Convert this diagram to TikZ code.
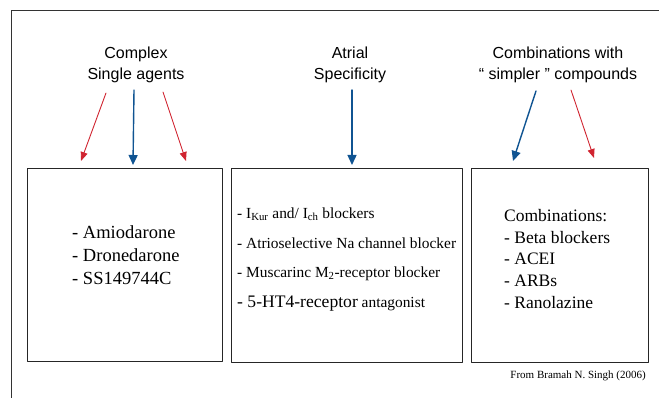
\documentclass[tikz,border=0pt]{standalone}
\usepackage{fontspec}
\setmainfont{Liberation Serif}
\newfontfamily\headfont{Liberation Sans}
\usetikzlibrary{arrows.meta}
\definecolor{arrred}{RGB}{208,36,48}
\definecolor{arrblue}{RGB}{16,84,146}
\tikzset{
  head/.style={font=\headfont\fontsize{16}{21}\selectfont, align=center, anchor=north, inner sep=0pt},
  drugbox/.style={draw=black!85, line width=0.9pt, anchor=north west, inner sep=0pt},
  drugtext/.style={align=left, anchor=north west, inner sep=0pt},
  redarr/.style={-{Triangle[length=9pt,width=7pt]}, arrred, line width=0.9pt},
  bluearr/.style={-{Triangle[length=10pt,width=9pt]}, arrblue, line width=1.4pt}
}
\begin{document}
\begin{tikzpicture}[x=1pt, y=-1pt, line join=round, line cap=round]
	\useasboundingbox (0,0) rectangle (659,398);
	\draw[black!80, line width=1pt] (11,398) -- (11,11) -- (659,11);
	% headings
	\node[head] (complex) at (136,47) {Complex\\Single agents};
	\node[head] (atrial) at (350,47) {Atrial\\Specificity};
	\node[head] (combi) at (558,47) {Combinations with\\“ simpler ” compounds};
	% boxes
	\node[drugbox, minimum width=195pt, minimum height=193pt] (single) at (27,168) {};
	\node[drugbox, minimum width=231pt, minimum height=194pt] (specific) at (231,168) {};
	\node[drugbox, minimum width=177pt, minimum height=194pt] (combined) at (471,168) {};
	% arrow ends
	\coordinate (r1a) at (106,93);  \coordinate (r1b) at (81,161);
	\coordinate (b1a) at (134,90);  \coordinate (b1b) at (133,165);
	\coordinate (r2a) at (163,92);  \coordinate (r2b) at (186,161);
	\coordinate (b2a) at (352,90);  \coordinate (b2b) at (352,165);
	\coordinate (b3a) at (536,91);  \coordinate (b3b) at (513,161);
	\coordinate (r3a) at (571,90);  \coordinate (r3b) at (594,158);
	\draw[redarr] (r1a) -- (r1b);
	\draw[bluearr] (b1a) -- (b1b);
	\draw[redarr] (r2a) -- (r2b);
	\draw[bluearr] (b2a) -- (b2b);
	\draw[bluearr] (b3a) -- (b3b);
	\draw[redarr] (r3a) -- (r3b);
	% box contents
	\node[drugtext, font=\fontsize{18.5}{23}\selectfont] (singlelist) at (72,225)
		{- Amiodarone\\- Dronedarone\\- SS149744C};
	\node[drugtext, font=\fontsize{15.4}{29.7}\selectfont] (specificlist) at (237,207.5)
		{- I\textsubscript{Kur} and/ I\textsubscript{ch} blockers\\
		 - Atrioselective Na channel blocker\\
		 - Muscarinc M\textsubscript{2}-receptor blocker\\
		 {\fontsize{17.6}{29.7}\selectfont - 5-HT4-receptor} antagonist};
	\node[drugtext, font=\fontsize{17.5}{21.75}\selectfont] (combilist) at (504,209)
		{Combinations:\\- Beta blockers\\- ACEI\\- ARBs\\- Ranolazine};
	\node[font=\fontsize{11}{13}\selectfont, anchor=east, inner sep=0pt] (source) at (646,376)
		{From Bramah N. Singh (2006)};
\end{tikzpicture}
\end{document}
